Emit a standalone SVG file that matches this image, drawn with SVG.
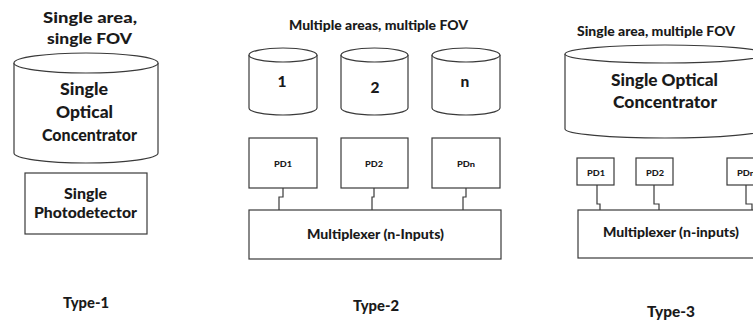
<svg xmlns="http://www.w3.org/2000/svg" width="753" height="320" viewBox="0 0 753 320">
<style>
  .s{fill:#fff;stroke:#3a3a3a;stroke-width:1.2}
  .c{fill:none;stroke:#3a3a3a;stroke-width:1.2}
  text{font-family:Lato,"Liberation Sans",sans-serif;font-weight:900;fill:#1a1a1a;text-anchor:middle}
  .t1{font-size:15.5px}
  .t2{font-size:13px}
  .big{font-size:16.5px}
  .pd{font-size:14.5px}
  .pds{font-size:7.5px}
  .mx{font-size:14px}
  .num{font-size:15.5px}
  .ty{font-size:14.5px}
</style>
<rect width="753" height="320" fill="#fff"/>

<!-- Type-1 -->
<g id="type1-title"><text class="t1" x="90" y="23" textLength="94" lengthAdjust="spacingAndGlyphs">Single area,</text><text class="t1" x="89.5" y="44" textLength="85" lengthAdjust="spacingAndGlyphs">single FOV</text></g>
<g id="type1-concentrator">
  <path class="s" d="M14,63 V153 A72,10 0 0 0 158,153 V63"/>
  <ellipse class="s" cx="86" cy="63" rx="72" ry="10"/>
  <text class="big" x="84" y="95" textLength="48" lengthAdjust="spacingAndGlyphs">Single</text>
  <text class="big" x="84.5" y="118" textLength="57" lengthAdjust="spacingAndGlyphs">Optical</text>
  <text class="big" x="89.5" y="141" textLength="95" lengthAdjust="spacingAndGlyphs">Concentrator</text>
</g>
<g id="type1-photodetector">
  <rect class="s" x="25" y="173" width="122" height="61"/>
  <text class="pd" x="85.5" y="199" textLength="43" lengthAdjust="spacingAndGlyphs">Single</text>
  <text class="pd" x="85.5" y="218" textLength="103" lengthAdjust="spacingAndGlyphs">Photodetector</text>
</g>
<g id="type1-label"><text class="ty" x="86" y="308" textLength="46" lengthAdjust="spacingAndGlyphs">Type-1</text></g>

<!-- Type-2 -->
<g id="type2-title"><text class="t2" x="378.5" y="30" textLength="179" lengthAdjust="spacingAndGlyphs">Multiple areas, multiple FOV</text></g>
<g id="cyl-1">
  <path class="s" d="M249,55 V108 A34,7 0 0 0 317,108 V55"/>
  <ellipse class="s" cx="283" cy="55" rx="34" ry="7"/>
  <text class="num" x="282" y="87">1</text>
</g>
<g id="cyl-2">
  <path class="s" d="M341,55 V108 A33.5,7 0 0 0 408,108 V55"/>
  <ellipse class="s" cx="374.5" cy="55" rx="33.5" ry="7"/>
  <text class="num" x="375" y="93">2</text>
</g>
<g id="cyl-n">
  <path class="s" d="M432,55 V108 A34,7 0 0 0 500,108 V55"/>
  <ellipse class="s" cx="466" cy="55" rx="34" ry="7"/>
  <text class="num" x="465" y="87">n</text>
</g>
<g id="pd1-2"><rect class="s" x="249" y="138" width="68" height="50"/><text class="pds" x="283" y="167" textLength="18" lengthAdjust="spacingAndGlyphs">PD1</text></g>
<g id="pd2-2"><rect class="s" x="341" y="138" width="67" height="50"/><text class="pds" x="374" y="167" textLength="18" lengthAdjust="spacingAndGlyphs">PD2</text></g>
<g id="pdn-2"><rect class="s" x="432" y="138" width="68" height="50"/><text class="pds" x="466" y="167" textLength="18" lengthAdjust="spacingAndGlyphs">PDn</text></g>
<g id="mux-2"><rect class="s" x="249" y="210" width="252" height="49"/><text class="mx" x="375.5" y="239" textLength="137" lengthAdjust="spacingAndGlyphs">Multiplexer (n-Inputs)</text></g>
<g id="type2-label"><text class="ty" x="376" y="311" textLength="46" lengthAdjust="spacingAndGlyphs">Type-2</text></g>

<!-- Type-3 -->
<g id="type3-title"><text class="t2" x="656" y="36" textLength="158" lengthAdjust="spacingAndGlyphs">Single area, multiple FOV</text></g>
<g id="type3-concentrator">
  <path class="s" d="M565,54 V129 A100,9 0 0 0 765,129 V54"/>
  <ellipse class="s" cx="665" cy="54" rx="100" ry="9"/>
  <text class="big" x="664.5" y="86" textLength="107" lengthAdjust="spacingAndGlyphs">Single Optical</text>
  <text class="big" x="665" y="108" textLength="104" lengthAdjust="spacingAndGlyphs">Concentrator</text>
</g>
<g id="pd1-3"><rect class="s" x="577" y="158" width="37" height="27"/><text class="pds" x="596" y="176" textLength="18" lengthAdjust="spacingAndGlyphs">PD1</text></g>
<g id="pd2-3"><rect class="s" x="636" y="158" width="37" height="27"/><text class="pds" x="655" y="176" textLength="18" lengthAdjust="spacingAndGlyphs">PD2</text></g>
<g id="pdn-3"><rect class="s" x="727" y="158" width="37" height="27"/><text class="pds" x="746" y="176" textLength="18" lengthAdjust="spacingAndGlyphs">PDn</text></g>
<g id="mux-3"><rect class="s" x="578" y="210" width="190" height="48"/><text class="mx" x="671" y="237" textLength="136" lengthAdjust="spacingAndGlyphs">Multiplexer (n-inputs)</text></g>
<g id="type3-label"><text class="ty" x="671" y="317" textLength="48" lengthAdjust="spacingAndGlyphs">Type-3</text></g>

<!-- connectors -->
<g id="connectors">
  <path class="c" d="M283,188 V197 H279 V210"/>
  <path class="c" d="M374,188 V197 H372 V210"/>
  <path class="c" d="M466,188 V197 H463 V210"/>
  <path class="c" d="M597,185 V204 H600 V210"/>
  <path class="c" d="M654,185 V204 H659 V210"/>
  <path class="c" d="M746,185 V204 H752 V210"/>
</g>
</svg>
